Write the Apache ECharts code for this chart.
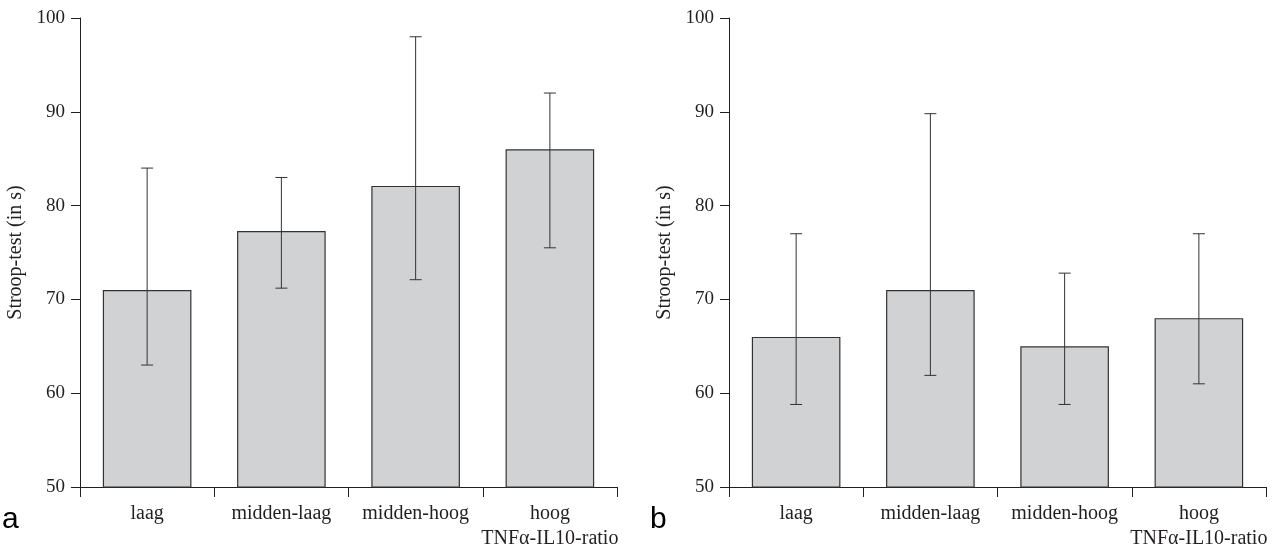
<!DOCTYPE html>
<html>
<head>
<meta charset="utf-8">
<script src="https://cdn.jsdelivr.net/npm/echarts@6/dist/echarts.min.js"></script>
<style>
  html, body { margin: 0; padding: 0; background: #fff; }
  #main { width: 1278px; height: 547px; }
</style>
</head>
<body>
<div id="main"></div>
<script>
// categorieen (TNFa-IL10-ratio kwartielen)
const categories = ['laag', 'midden-laag', 'midden-hoog', 'hoog'];

// figuur a
const meanA = [71, 77.3, 82.1, 86];
const lowA = [63, 71.2, 72.1, 75.5];
const highA = [84, 83, 98, 92];

// figuur b
const meanB = [66, 71, 65, 68];
const lowB = [58.8, 61.9, 58.8, 61];
const highB = [77, 89.8, 72.8, 77];

const yMin = 50, yMax = 100, yStep = 10;

var serif = 'Liberation Serif';
var ink = '#231f20';

var myChart = echarts.init(document.getElementById('main'));

function errorBar(params, api) {
    var i = api.value(0);
    var lo = api.coord([i, api.value(1)]);
    var hi = api.coord([i, api.value(2)]);
    var hw = 6;
    var st = { stroke: '#333', lineWidth: 1 };
    return {
        type: 'group',
        children: [
            { type: 'line', shape: { x1: lo[0], y1: lo[1], x2: hi[0], y2: hi[1] }, style: st },
            { type: 'line', shape: { x1: hi[0] - hw, y1: hi[1], x2: hi[0] + hw, y2: hi[1] }, style: st },
            { type: 'line', shape: { x1: lo[0] - hw, y1: lo[1], x2: lo[0] + hw, y2: lo[1] }, style: st }
        ]
    };
}

function xAxisOpt(idx) {
    return {
        type: 'category',
        gridIndex: idx,
        data: categories,
        boundaryGap: true,
        axisLine: { lineStyle: { color: ink, width: 1 } },
        axisTick: { show: true, inside: false, interval: 0, alignWithLabel: false, length: 10, lineStyle: { color: ink } },
        axisLabel: {
            show: true,
            interval: 0,
            color: ink,
            fontFamily: serif,
            fontSize: 20,
            margin: 14,
            lineHeight: 25,
            formatter: function (v, i) {
                // laatste label krijgt de as-titel eronder
                return i === categories.length - 1 ? v + '\nTNFα-IL10-ratio' : v;
            }
        }
    };
}

function yAxisOpt(idx) {
    return {
        type: 'value',
        gridIndex: idx,
        min: yMin,
        max: yMax,
        interval: yStep,
        name: 'Stroop-test (in s)',
        nameLocation: 'middle',
        nameGap: 54,
        nameTextStyle: { color: ink, fontFamily: serif, fontSize: 20 },
        splitLine: { show: false },
        axisLine: { show: true, lineStyle: { color: ink, width: 1 } },
        axisTick: { show: true, inside: false, length: 9, lineStyle: { color: ink } },
        axisLabel: { color: ink, fontFamily: serif, fontSize: 19, margin: 15 }
    };
}

function barSeries(idx, data) {
    return {
        type: 'bar',
        xAxisIndex: idx,
        yAxisIndex: idx,
        data: data,
        barWidth: '66%',
        itemStyle: { color: '#d1d2d4', borderColor: '#333', borderWidth: 1.2 },
        silent: true
    };
}

function errSeries(idx, lows, highs) {
    return {
        type: 'custom',
        xAxisIndex: idx,
        yAxisIndex: idx,
        renderItem: errorBar,
        encode: { x: 0, y: [1, 2] },
        data: categories.map(function (c, i) { return [i, lows[i], highs[i]]; }),
        z: 5,
        silent: true
    };
}

var option = {
    animation: false,
    backgroundColor: '#fff',
    grid: [
        { left: 80, top: 18, width: 537, height: 469, containLabel: false, outerBoundsMode: 'none' },
        { left: 729, top: 18, width: 537, height: 469, containLabel: false, outerBoundsMode: 'none' }
    ],
    xAxis: [xAxisOpt(0), xAxisOpt(1)],
    yAxis: [yAxisOpt(0), yAxisOpt(1)],
    series: [
        barSeries(0, meanA),
        errSeries(0, lowA, highA),
        barSeries(1, meanB),
        errSeries(1, lowB, highB)
    ],
    graphic: [
        { type: 'text', left: 2, top: 505, style: { text: 'a', font: '30px "Liberation Sans"', fill: '#000' } },
        { type: 'text', left: 650, top: 505, style: { text: 'b', font: '30px "Liberation Sans"', fill: '#000' } }
    ]
};

myChart.setOption(option);
</script>
</body>
</html>
